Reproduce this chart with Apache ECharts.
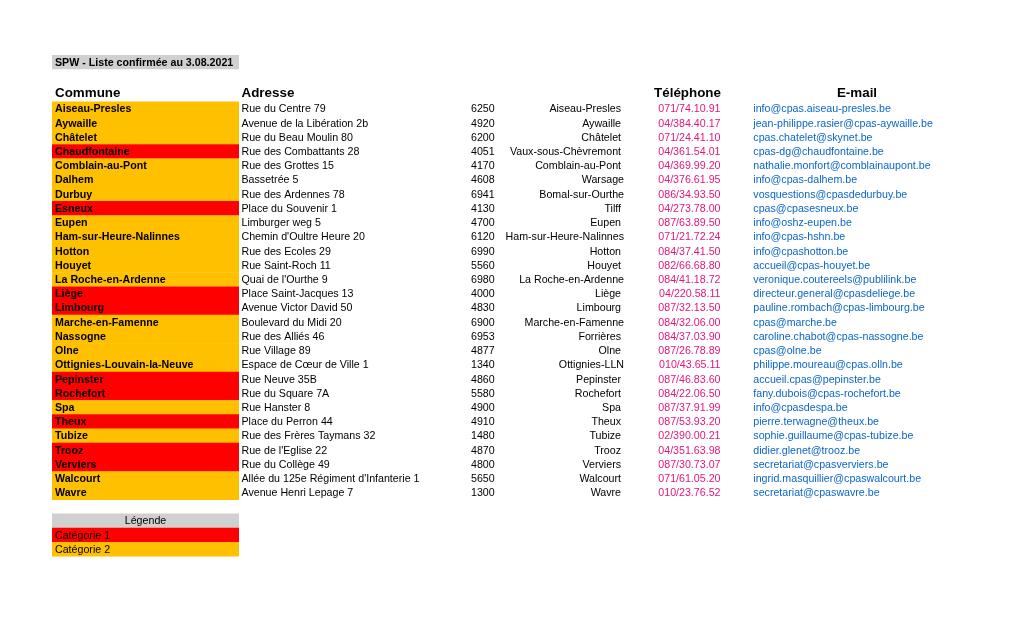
<!DOCTYPE html>
<html>
<head>
<meta charset="utf-8">
<script src="https://cdn.jsdelivr.net/npm/echarts@6/dist/echarts.min.js"></script>
<style>
html,body{margin:0;padding:0;background:#fff;}
#main{width:1020px;height:619px;}
</style>
</head>
<body>
<div id="main"></div>
<script>
const titleText = 'SPW - Liste confirmée au 3.08.2021';
const headers = ['Commune', 'Adresse', 'Téléphone', 'E-mail'];
const communes = ['Aiseau-Presles','Aywaille','Châtelet','Chaudfontaine','Comblain-au-Pont','Dalhem','Durbuy','Esneux','Eupen','Ham-sur-Heure-Nalinnes','Hotton','Houyet','La Roche-en-Ardenne','Liège','Limbourg','Marche-en-Famenne','Nassogne','Olne','Ottignies-Louvain-la-Neuve','Pepinster','Rochefort','Spa','Theux','Tubize','Trooz','Verviers','Walcourt','Wavre'];
const adresses = ['Rue du Centre 79','Avenue de la Libération 2b','Rue du Beau Moulin 80','Rue des Combattants 28','Rue des Grottes 15','Bassetrée 5','Rue des Ardennes 78','Place du Souvenir 1','Limburger weg 5',"Chemin d'Oultre Heure 20",'Rue des Ecoles 29','Rue Saint-Roch 11',"Quai de l'Ourthe 9",'Place Saint-Jacques 13','Avenue Victor David 50','Boulevard du Midi 20','Rue des Alliés 46','Rue Village 89','Espace de Cœur de Ville 1','Rue Neuve 35B','Rue du Square 7A','Rue Hanster 8','Place du Perron 44','Rue des Frères Taymans 32',"Rue de l'Eglise 22",'Rue du Collège 49',"Allée du 125e Régiment d'Infanterie 1",'Avenue Henri Lepage 7'];
const codesPostaux = [6250,4920,6200,4051,4170,4608,6941,4130,4700,6120,6990,5560,6980,4000,4830,6900,6953,4877,1340,4860,5580,4900,4910,1480,4870,4800,5650,1300];
const localites = ['Aiseau-Presles ','Aywaille ','Châtelet ','Vaux-sous-Chèvremont ','Comblain-au-Pont ','Warsage','Bomal-sur-Ourthe','Tilff ','Eupen ','Ham-sur-Heure-Nalinnes','Hotton ','Houyet ','La Roche-en-Ardenne','Liège ','Limbourg ','Marche-en-Famenne','Forrières ','Olne ','Ottignies-LLN','Pepinster ','Rochefort ','Spa ','Theux ','Tubize ','Trooz ','Verviers ','Walcourt ','Wavre '];
const telephones = ['071/74.10.91','04/384.40.17','071/24.41.10','04/361.54.01','04/369.99.20','04/376.61.95','086/34.93.50','04/273.78.00','087/63.89.50','071/21.72.24','084/37.41.50','082/66.68.80','084/41.18.72','04/220.58.11','087/32.13.50','084/32.06.00','084/37.03.90','087/26.78.89','010/43.65.11','087/46.83.60','084/22.06.50','087/37.91.99','087/53.93.20','02/390.00.21','04/351.63.98','087/30.73.07','071/61.05.20','010/23.76.52'];
const emails = ['info@cpas.aiseau-presles.be','jean-philippe.rasier@cpas-aywaille.be','cpas.chatelet@skynet.be','cpas-dg@chaudfontaine.be','nathalie.monfort@comblainaupont.be','info@cpas-dalhem.be','vosquestions@cpasdedurbuy.be','cpas@cpasesneux.be','info@oshz-eupen.be','info@cpas-hshn.be','info@cpashotton.be','accueil@cpas-houyet.be','veronique.coutereels@publilink.be','directeur.general@cpasdeliege.be','pauline.rombach@cpas-limbourg.be','cpas@marche.be','caroline.chabot@cpas-nassogne.be','cpas@olne.be','philippe.moureau@cpas.olln.be','accueil.cpas@pepinster.be','fany.dubois@cpas-rochefort.be','info@cpasdespa.be','pierre.terwagne@theux.be','sophie.guillaume@cpas-tubize.be','didier.glenet@trooz.be','secretariat@cpasverviers.be','ingrid.masquillier@cpaswalcourt.be','secretariat@cpaswavre.be'];
const categories = [2,2,2,1,2,2,2,1,2,2,2,2,2,1,1,2,2,2,2,1,1,2,1,2,1,1,2,2];
const legendLabels = ['Légende','Catégorie 1','Catégorie 2'];
const legendCategories = [0,1,2];

const FONT = "'Liberation Sans', Arial, sans-serif";
const FS = 10.67;
const DY = 0.8;
const catColors = {0:'#D0D0D0', 1:'#FF0000', 2:'#FFC000'};
const phoneColor = '#E4157D';
const mailColor = '#0A66C6';

const chart = echarts.init(document.getElementById('main'), null, {renderer:'canvas'});

function txt(x, y, text, opts) {
  return {type:'text', style:Object.assign({x:x, y:y + DY, text:text, fill:'#000', fontSize:FS, fontFamily:FONT, verticalAlign:'middle', align:'left'}, opts || {})};
}

const option = {
  animation: false,
  backgroundColor: '#fff',
  grid: [
    {left:0, right:0, top:101.5, height:398.2},
    {left:0, right:0, top:513.5, height:42.6}
  ],
  xAxis: [
    {type:'value', min:0, max:1020, show:false, gridIndex:0},
    {type:'value', min:0, max:1020, show:false, gridIndex:1}
  ],
  yAxis: [
    {type:'category', data:communes, inverse:true, show:false, gridIndex:0},
    {type:'category', data:legendLabels, inverse:true, show:false, gridIndex:1}
  ],
  graphic: [
    {type:'rect', shape:{x:52, y:55, width:187, height:14.3}, style:{fill:'#D0D0D0'}},
    txt(55, 62.4, titleText, {fontWeight:'bold'}),
    txt(55, 92.6, headers[0], {fontWeight:'bold', fontSize:13.4}),
    txt(241.5, 92.6, headers[1], {fontWeight:'bold', fontSize:13.4}),
    txt(721, 92.6, headers[2], {fontWeight:'bold', fontSize:13.4, align:'right'}),
    txt(857, 92.6, headers[3], {fontWeight:'bold', fontSize:13.4, align:'center'})
  ],
  series: [
    {
      type:'custom', xAxisIndex:0, yAxisIndex:0,
      data: communes.map((c, i) => [0, i]),
      encode: {x:0, y:1},
      renderItem: function(params, api) {
        const i = api.value(1);
        const h = api.size([0, 1])[1];
        const cy = api.coord([0, i])[1];
        const X = v => api.coord([v, i])[0];
        const x0 = X(52), x1 = X(239);
        return {type:'group', children:[
          {type:'rect', shape:{x:x0, y:cy - h/2, width:x1 - x0, height:h + 0.4}, style:{fill:catColors[categories[i]]}},
          txt(X(55), cy, communes[i], {fontWeight:'bold'}),
          txt(X(241.5), cy, adresses[i]),
          txt(X(471), cy, String(codesPostaux[i])),
          txt(X(624), cy, localites[i], {align:'right'}),
          txt(X(720.5), cy, telephones[i], {align:'right', fill:phoneColor}),
          txt(X(753.3), cy, emails[i], {fill:mailColor})
        ]};
      }
    },
    {
      type:'custom', xAxisIndex:1, yAxisIndex:1,
      data: legendLabels.map((c, i) => [0, i]),
      encode: {x:0, y:1},
      renderItem: function(params, api) {
        const i = api.value(1);
        const h = api.size([0, 1])[1];
        const cy = api.coord([0, i])[1];
        const X = v => api.coord([v, i])[0];
        const x0 = X(52), x1 = X(239);
        const isHead = i === 0;
        return {type:'group', children:[
          {type:'rect', shape:{x:x0, y:cy - h/2, width:x1 - x0, height:h + 0.4}, style:{fill:catColors[legendCategories[i]]}},
          isHead ? txt((x0 + x1) / 2, cy, legendLabels[i], {align:'center'})
                 : txt(X(55), cy, legendLabels[i])
        ]};
      }
    }
  ]
};
chart.setOption(option);
</script>
</body>
</html>
